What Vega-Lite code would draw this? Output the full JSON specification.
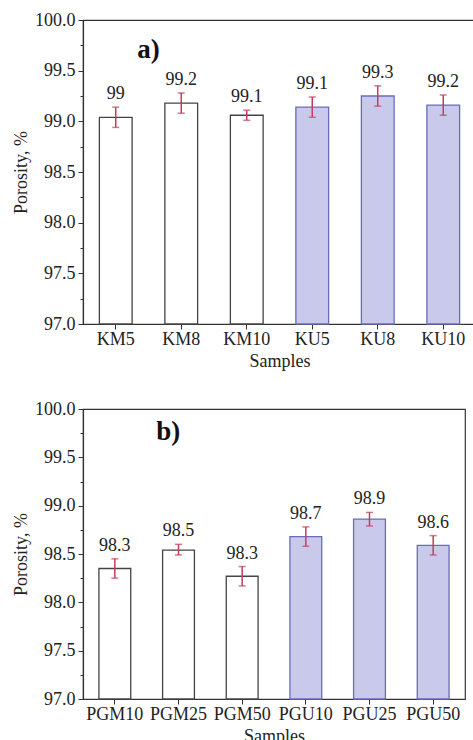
{
  "$schema": "https://vega.github.io/schema/vega-lite/v6.json",
  "padding": {"left": 11, "top": 10, "right": 0, "bottom": 0},
  "background": "white",
  "spacing": 28,
  "config": {
    "font": "Liberation Serif",
    "view": {"stroke": "#333", "strokeWidth": 1.2},
    "axis": {
      "labelFont": "Liberation Serif", "titleFont": "Liberation Serif",
      "labelFontSize": 18, "titleFontSize": 18, "titleFontWeight": "normal",
      "labelColor": "#222", "titleColor": "#222",
      "domainColor": "#333", "tickColor": "#333", "domainWidth": 1.2,
      "grid": false, "tickSize": 5
    },
    "axisX": {"labelAngle": 0, "labelPadding": 1, "titlePadding": 4},
    "axisY": {"labelPadding": 3, "titlePadding": 4}
  },
  "vconcat": [
    {
      "width": 393, "height": 304,
      "data": {"values": [
        {"sample": "KM5", "porosity": 99.04, "lo": 98.94, "hi": 99.14, "label": "99", "group": "M"},
        {"sample": "KM8", "porosity": 99.18, "lo": 99.08, "hi": 99.28, "label": "99.2", "group": "M"},
        {"sample": "KM10", "porosity": 99.06, "lo": 99.01, "hi": 99.11, "label": "99.1", "group": "M"},
        {"sample": "KU5", "porosity": 99.14, "lo": 99.04, "hi": 99.24, "label": "99.1", "group": "U"},
        {"sample": "KU8", "porosity": 99.25, "lo": 99.15, "hi": 99.35, "label": "99.3", "group": "U"},
        {"sample": "KU10", "porosity": 99.16, "lo": 99.06, "hi": 99.26, "label": "99.2", "group": "U"}
      ]},
      "encoding": {
        "x": {"field": "sample", "type": "nominal", "sort": null,
              "scale": {"paddingInner": 0.5, "paddingOuter": 0.25},
              "axis": {"title": "Samples"}}
      },
      "resolve": {"axis": {"y": "independent"}},
      "layer": [
        {
          "mark": {"type": "bar", "strokeWidth": 1.3},
          "encoding": {
            "y": {"field": "porosity", "type": "quantitative",
                  "scale": {"domain": [97, 100], "zero": false, "nice": false},
                  "axis": {"title": "Porosity, %", "values": [97, 97.5, 98, 98.5, 99, 99.5, 100], "format": ".1f"}},
            "y2": {"datum": 97},
            "fill": {"field": "group", "type": "nominal", "scale": {"domain": ["M", "U"], "range": ["white", "#c9c9ec"]}, "legend": null},
            "stroke": {"field": "group", "type": "nominal", "scale": {"domain": ["M", "U"], "range": ["#444", "#6b6bbd"]}, "legend": null}
          }
        },
        {
          "mark": {"type": "rule", "color": "#c0405c", "strokeWidth": 1.5},
          "encoding": {
            "y": {"field": "lo", "type": "quantitative",
                  "axis": {"orient": "left", "title": null, "labels": false, "domain": false, "tickSize": 3,
                           "values": [97.25, 97.75, 98.25, 98.75, 99.25, 99.75]}},
            "y2": {"field": "hi"}
          }
        },
        {
          "mark": {"type": "tick", "color": "#c0405c", "size": 7, "thickness": 1.5},
          "encoding": {"y": {"field": "lo", "type": "quantitative", "axis": null}}
        },
        {
          "mark": {"type": "tick", "color": "#c0405c", "size": 7, "thickness": 1.5},
          "encoding": {"y": {"field": "hi", "type": "quantitative", "axis": null}}
        },
        {
          "mark": {"type": "text", "baseline": "bottom", "dy": -4, "fontSize": 18, "color": "#222", "font": "Liberation Serif"},
          "encoding": {"y": {"field": "hi", "type": "quantitative", "axis": null}, "text": {"field": "label"}}
        },
        {
          "data": {"values": [{"sample": "KM5", "y": 99.7, "label": "a)"}]},
          "mark": {"type": "text", "baseline": "middle", "align": "center", "fontSize": 27, "fontWeight": "bold", "color": "#111", "font": "Liberation Serif"},
          "encoding": {
            "x": {"field": "sample", "type": "nominal", "bandPosition": 1.5},
            "y": {"field": "y", "type": "quantitative", "axis": null},
            "text": {"field": "label"}
          }
        }
      ]
    },
    {
      "width": 382, "height": 290,
      "data": {"values": [
        {"sample": "PGM10", "porosity": 98.35, "lo": 98.25, "hi": 98.45, "label": "98.3", "group": "M"},
        {"sample": "PGM25", "porosity": 98.54, "lo": 98.49, "hi": 98.60, "label": "98.5", "group": "M"},
        {"sample": "PGM50", "porosity": 98.27, "lo": 98.17, "hi": 98.37, "label": "98.3", "group": "M"},
        {"sample": "PGU10", "porosity": 98.68, "lo": 98.58, "hi": 98.78, "label": "98.7", "group": "U"},
        {"sample": "PGU25", "porosity": 98.86, "lo": 98.79, "hi": 98.93, "label": "98.9", "group": "U"},
        {"sample": "PGU50", "porosity": 98.59, "lo": 98.49, "hi": 98.69, "label": "98.6", "group": "U"}
      ]},
      "encoding": {
        "x": {"field": "sample", "type": "nominal", "sort": null,
              "scale": {"paddingInner": 0.5, "paddingOuter": 0.25},
              "axis": {"title": "Samples"}}
      },
      "resolve": {"axis": {"y": "independent"}},
      "layer": [
        {
          "mark": {"type": "bar", "strokeWidth": 1.3},
          "encoding": {
            "y": {"field": "porosity", "type": "quantitative",
                  "scale": {"domain": [97, 100], "zero": false, "nice": false},
                  "axis": {"title": "Porosity, %", "values": [97, 97.5, 98, 98.5, 99, 99.5, 100], "format": ".1f"}},
            "y2": {"datum": 97},
            "fill": {"field": "group", "type": "nominal", "scale": {"domain": ["M", "U"], "range": ["white", "#c9c9ec"]}, "legend": null},
            "stroke": {"field": "group", "type": "nominal", "scale": {"domain": ["M", "U"], "range": ["#444", "#6b6bbd"]}, "legend": null}
          }
        },
        {
          "mark": {"type": "rule", "color": "#c0405c", "strokeWidth": 1.5},
          "encoding": {
            "y": {"field": "lo", "type": "quantitative",
                  "axis": {"orient": "left", "title": null, "labels": false, "domain": false, "tickSize": 3,
                           "values": [97.25, 97.75, 98.25, 98.75, 99.25, 99.75]}},
            "y2": {"field": "hi"}
          }
        },
        {
          "mark": {"type": "tick", "color": "#c0405c", "size": 7, "thickness": 1.5},
          "encoding": {"y": {"field": "lo", "type": "quantitative", "axis": null}}
        },
        {
          "mark": {"type": "tick", "color": "#c0405c", "size": 7, "thickness": 1.5},
          "encoding": {"y": {"field": "hi", "type": "quantitative", "axis": null}}
        },
        {
          "mark": {"type": "text", "baseline": "bottom", "dy": -4, "fontSize": 18, "color": "#222", "font": "Liberation Serif"},
          "encoding": {"y": {"field": "hi", "type": "quantitative", "axis": null}, "text": {"field": "label"}}
        },
        {
          "data": {"values": [{"sample": "PGM25", "y": 99.76, "label": "b)"}]},
          "mark": {"type": "text", "baseline": "middle", "align": "center", "fontSize": 27, "fontWeight": "bold", "color": "#111", "font": "Liberation Serif"},
          "encoding": {
            "x": {"field": "sample", "type": "nominal", "bandPosition": 0.18},
            "y": {"field": "y", "type": "quantitative", "axis": null},
            "text": {"field": "label"}
          }
        }
      ]
    }
  ]
}
